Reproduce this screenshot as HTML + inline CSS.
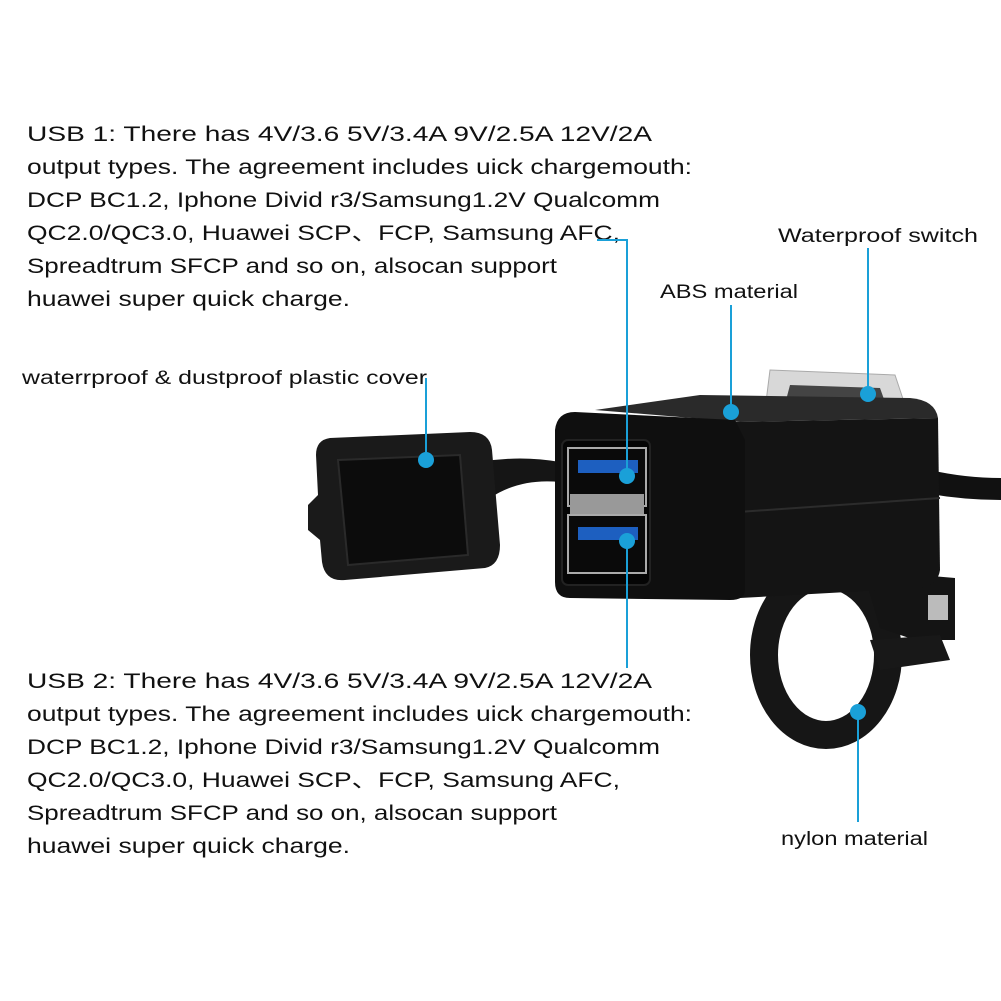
<!DOCTYPE html>
<html><head><meta charset="utf-8"><style>
html,body{margin:0;padding:0;background:#fff;}
svg{display:block}
.t{font-family:"Liberation Sans","Noto Sans CJK SC",sans-serif;font-size:21px;fill:#111;}
.l{font-family:"Liberation Sans",sans-serif;font-size:19px;fill:#111;}
</style></head><body>
<svg width="1001" height="1001" viewBox="0 0 1001 1001" xmlns="http://www.w3.org/2000/svg">
<rect width="1001" height="1001" fill="#fff"/>
<text class="t" x="27" y="141" textLength="625" lengthAdjust="spacingAndGlyphs">USB 1: There has 4V/3.6 5V/3.4A 9V/2.5A 12V/2A</text>
<text class="t" x="27" y="174" textLength="665" lengthAdjust="spacingAndGlyphs">output types. The agreement includes uick chargemouth:</text>
<text class="t" x="27" y="207" textLength="633" lengthAdjust="spacingAndGlyphs">DCP BC1.2, Iphone Divid r3/Samsung1.2V Qualcomm</text>
<text class="t" x="27" y="240" textLength="593" lengthAdjust="spacingAndGlyphs">QC2.0/QC3.0, Huawei SCP、FCP, Samsung AFC,</text>
<text class="t" x="27" y="273" textLength="530" lengthAdjust="spacingAndGlyphs">Spreadtrum SFCP and so on, alsocan support</text>
<text class="t" x="27" y="306" textLength="323" lengthAdjust="spacingAndGlyphs">huawei super quick charge.</text>
<text class="t" x="27" y="688" textLength="625" lengthAdjust="spacingAndGlyphs">USB 2: There has 4V/3.6 5V/3.4A 9V/2.5A 12V/2A</text>
<text class="t" x="27" y="721" textLength="665" lengthAdjust="spacingAndGlyphs">output types. The agreement includes uick chargemouth:</text>
<text class="t" x="27" y="754" textLength="633" lengthAdjust="spacingAndGlyphs">DCP BC1.2, Iphone Divid r3/Samsung1.2V Qualcomm</text>
<text class="t" x="27" y="787" textLength="593" lengthAdjust="spacingAndGlyphs">QC2.0/QC3.0, Huawei SCP、FCP, Samsung AFC,</text>
<text class="t" x="27" y="820" textLength="530" lengthAdjust="spacingAndGlyphs">Spreadtrum SFCP and so on, alsocan support</text>
<text class="t" x="27" y="853" textLength="323" lengthAdjust="spacingAndGlyphs">huawei super quick charge.</text>
<text class="l" x="778" y="242" textLength="200" lengthAdjust="spacingAndGlyphs">Waterproof switch</text>
<text class="l" x="660" y="298" textLength="138" lengthAdjust="spacingAndGlyphs">ABS material</text>
<text class="l" x="22" y="384" textLength="405" lengthAdjust="spacingAndGlyphs">waterrproof &amp; dustproof plastic cover</text>
<text class="l" x="781" y="845" textLength="147" lengthAdjust="spacingAndGlyphs">nylon material</text>

<path d="M930 470 Q965 478 1001 478 L1001 500 Q965 500 930 494Z" fill="#111"/>
<path d="M480 462 Q520 455 560 462 L560 482 Q520 478 490 498Z" fill="#151515"/>
<path d="M330 438 L470 432 Q490 432 492 450 L500 545 Q500 565 485 568 L345 580 Q325 582 322 562 L320 540 L308 530 L308 505 L318 495 L316 455 Q316 440 330 438Z" fill="#1a1a1a"/>
<path d="M338 460 L460 455 L468 555 L348 565Z" fill="#0c0c0c" stroke="#2a2a2a" stroke-width="2"/>
<ellipse cx="826" cy="655" rx="62" ry="80" fill="none" stroke="#161616" stroke-width="28"/>
<path d="M860 560 L920 575 L955 578 L955 640 L915 640 L880 628Z" fill="#141414"/>
<rect x="928" y="595" width="20" height="25" fill="#bbb"/>
<path d="M870 640 L940 635 L950 660 L880 670Z" fill="#181818"/>
<path d="M770 370 L895 375 L905 405 L765 410Z" fill="#d8d8d8" stroke="#aaa"/>
<path d="M790 385 L880 388 L885 402 L785 404Z" fill="#444"/>
<path d="M595 410 L700 395 L910 398 Q935 400 938 418 L740 422Z" fill="#2a2a2a"/>
<path d="M735 422 L938 418 L940 570 Q938 585 920 588 L740 598Z" fill="#141414"/>
<line x1="738" y1="512" x2="940" y2="498" stroke="#2c2c2c" stroke-width="2"/>
<path d="M575 412 L735 420 L745 440 L745 590 Q745 600 730 600 L570 598 Q555 598 555 582 L555 430 Q557 412 575 412Z" fill="#0f0f0f"/>
<rect x="562" y="440" width="88" height="145" rx="6" fill="#050505" stroke="#222" stroke-width="2"/>
<rect x="568" y="448" width="78" height="58" fill="#0a0a0a" stroke="#aaa" stroke-width="2"/>
<rect x="568" y="515" width="78" height="58" fill="#0a0a0a" stroke="#aaa" stroke-width="2"/>
<rect x="570" y="494" width="74" height="20" fill="#999"/>
<rect x="578" y="460" width="60" height="13" fill="#1d5fc0"/>
<rect x="578" y="527" width="60" height="13" fill="#1d5fc0"/>

<g stroke="#1aa0d8" stroke-width="2" fill="none">
<line x1="426" y1="378" x2="426" y2="460"/>
<polyline points="597,240 627,240 627,476"/>
<line x1="731" y1="305" x2="731" y2="412"/>
<line x1="868" y1="248" x2="868" y2="394"/>
<line x1="627" y1="541" x2="627" y2="668"/>
<line x1="858" y1="712" x2="858" y2="822"/>
</g>
<g fill="#1aa0d8">
<circle cx="426" cy="460" r="8"/>
<circle cx="627" cy="476" r="8"/>
<circle cx="731" cy="412" r="8"/>
<circle cx="868" cy="394" r="8"/>
<circle cx="627" cy="541" r="8"/>
<circle cx="858" cy="712" r="8"/>
</g>
</svg>
</body></html>
